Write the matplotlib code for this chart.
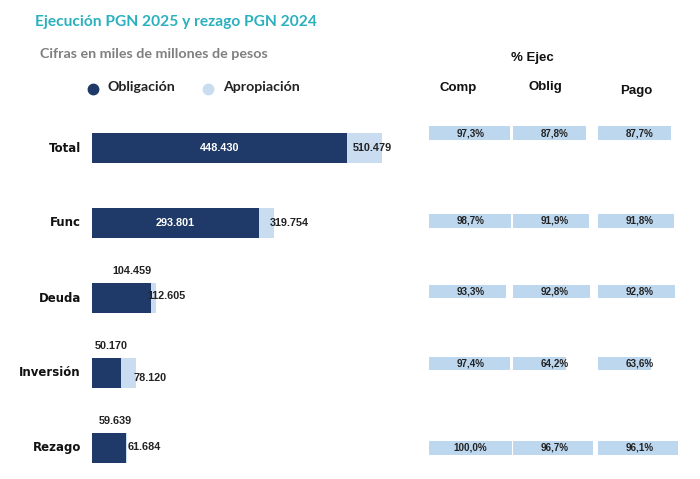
import matplotlib
matplotlib.use("Agg")
import matplotlib.pyplot as plt
from matplotlib.lines import Line2D

# Datos
categorias = ["Total", "Func", "Deuda", "Inversión", "Rezago"]
obligacion = [448.430, 293.801, 104.459, 50.170, 59.639]
apropiacion = [510.479, 319.754, 112.605, 78.120, 61.684]
columnas_ejec = ["Comp", "Oblig", "Pago"]
pct_comp = [97.3, 98.7, 93.3, 97.4, 100.0]
pct_oblig = [87.8, 91.9, 92.8, 64.2, 96.7]
pct_pago = [87.7, 91.8, 92.8, 63.6, 96.1]

c_oscuro = "#1F3A68"
c_claro = "#C9DCF0"
c_pct = "#BDD7EE"
c_titulo = "#2BB0BE"

W, H = 700, 479
fig = plt.figure(figsize=(7, 4.79), dpi=100)

def fx(px):
    return px / W

def fy(py):
    return 1 - py / H

# eje de barras principal (pixeles 92..420 en x, 88..478 en y)
ax = fig.add_axes([fx(92), fy(478), fx(328), 390 / H])
escala = 0.5687  # px por unidad
ax.set_xlim(0, 328 / escala)
ax.set_ylim(4.4, -0.8)
ax.axis("off")

pos = list(range(len(categorias)))
ax.barh(pos, apropiacion, height=0.4, color=c_claro)
ax.barh(pos, obligacion, height=0.4, color=c_oscuro)

txt_num = dict(fontsize=7.8, fontweight="bold", family="Liberation Sans")
# desplazamiento (px) de la etiqueta de apropiacion respecto al fin de la barra
dx_aprop = [-30, -4, -9, -3, 1]
dy_aprop = [0, 0, -2, 5, -1]
for i, (o, a) in enumerate(zip(obligacion, apropiacion)):
    if i < 2:
        ax.text(o / 2, i, f"{o:.3f}", color="white", ha="center", va="center", **txt_num)
    else:
        ax.annotate(f"{o:.3f}", (o * 0.68, i - 0.2), xytext=(0, 7), textcoords="offset pixels",
                    ha="center", va="bottom", color="#222222", **txt_num)
    ax.annotate(f"{a:.3f}", (a, i), xytext=(dx_aprop[i], -dy_aprop[i]), textcoords="offset pixels",
                ha="left", va="center", color="#222222", **txt_num)
for i, c in enumerate(categorias):
    ax.annotate(c, (0, i), xytext=(-11, 0), textcoords="offset pixels", ha="right", va="center",
                fontsize=8.5, fontweight="bold", family="DejaVu Sans", color="#111111",
                annotation_clip=False)

# columnas de % ejecucion
desfase_fila = [-0.2, -0.03, -0.09, -0.13, 0.0]
col_x = [429, 513, 598]
col_x_tit = [458, 545, 636]
col_y_tit = [88, 87, 91]
for j, (nombre, vals) in enumerate(zip(columnas_ejec, [pct_comp, pct_oblig, pct_pago])):
    axp = fig.add_axes([fx(col_x[j]), fy(478), fx(83), 390 / H])
    axp.set_xlim(0, 100)
    axp.set_ylim(4.4, -0.8)
    axp.axis("off")
    ys = [p + d for p, d in zip(pos, desfase_fila)]
    axp.barh(ys, vals, height=0.18, color=c_pct)
    for y, v in zip(ys, vals):
        axp.text(50, y, f"{v:.1f}%".replace(".", ","), ha="center", va="center",
                 fontsize=7.1, fontweight="bold", family="Liberation Sans", color="#222222")
    fig.text(fx(col_x_tit[j]), fy(col_y_tit[j]), nombre, ha="center", va="center",
             fontsize=9.5, fontweight="bold", family="Liberation Sans", color="#111111")

fig.text(fx(532), fy(58), "% Ejec", ha="center", va="center", fontsize=9.5,
         fontweight="bold", family="Liberation Sans", color="#111111")

# titulos
fig.text(fx(35), fy(22), "Ejecución PGN 2025 y rezago PGN 2024", ha="left", va="center",
         fontsize=11.2, fontweight="bold", family="Lato", color=c_titulo)
fig.text(fx(40), fy(54), "Cifras en miles de millones de pesos", ha="left", va="center",
         fontsize=10.3, fontweight="bold", family="Lato", color="#7F7F7F")

# leyenda
for xm, col, lab in [(93, c_oscuro, "Obligación"), (208, c_claro, "Apropiación")]:
    fig.add_artist(Line2D([fx(xm)], [fy(89)], marker="o", markersize=7.5, color=col,
                          transform=fig.transFigure))
    fig.text(fx(xm + 15), fy(87), lab, ha="left", va="center", fontsize=10.2,
             fontweight="bold", family="Lato", color="#222222")

fig.savefig("out.png", dpi=100, facecolor="white")
